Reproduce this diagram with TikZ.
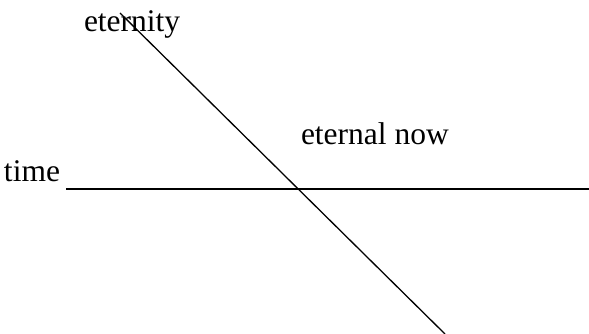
\documentclass[tikz,border=0pt]{standalone}
\usepackage{fontspec}
\setmainfont{Liberation Serif}
\begin{document}
\begin{tikzpicture}[x=1pt,y=-1pt,
  lbl/.style={inner sep=0pt,outer sep=0pt,anchor=base west,font=\fontsize{31.5}{36}\selectfont},
  ln/.style={draw=black,line width=1.3pt}]
\useasboundingbox[fill=white] (0,0) rectangle (589,334);
\node[lbl] (eternity) at (84,32) {eternity};
\node[lbl] (now) at (301,145) {eternal now};
\node[lbl] (time) at (4,182) {time};
\coordinate (hl) at (66,189);
\coordinate (hr) at (589,189);
\coordinate (dt) at (120,13);
\coordinate (db) at (445,334);
\draw[ln] (hl) -- (hr);
\draw[ln] (dt) -- (db);
\end{tikzpicture}
\end{document}
